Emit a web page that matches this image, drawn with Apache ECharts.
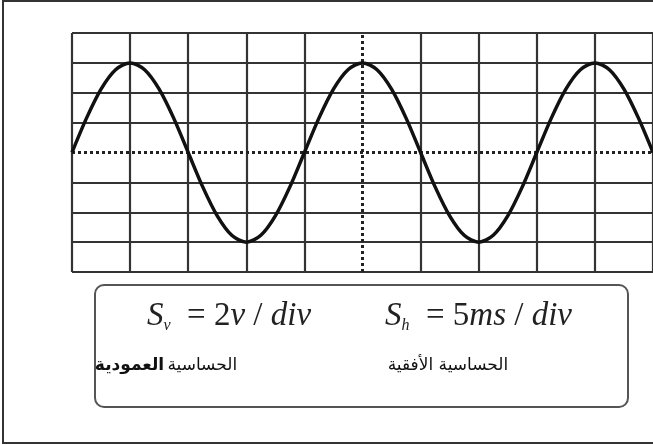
<!DOCTYPE html>
<html>
<head>
<meta charset="utf-8">
<script src="https://cdn.jsdelivr.net/npm/echarts@6/dist/echarts.min.js"></script>
<style>html,body{margin:0;padding:0;background:#fff;}#c{width:653px;height:445px;}</style>
</head>
<body>
<div id="c"></div>
<script>
// horizontal position in divisions (0.25 div steps)
var timeDiv = [];
for (var i = 0; i <= 40; i++) timeDiv.push(i / 4);
// signal amplitude in divisions
var signalDiv = [
  0, 1.15, 2.12, 2.77, 3, 2.77, 2.12, 1.15,
  0, -1.15, -2.12, -2.77, -3, -2.77, -2.12, -1.15,
  0, 1.15, 2.12, 2.77, 3, 2.77, 2.12, 1.15,
  0, -1.15, -2.12, -2.77, -3, -2.77, -2.12, -1.15,
  0, 1.15, 2.12, 2.77, 3, 2.77, 2.12, 1.15,
  0
];
var xTicks = [0,1,2,3,4,5,6,7,8,9,10];
var yTicks = [-4,-3,-2,-1,0,1,2,3,4];
var labelVWords = ['الحساسية', 'العمودية'];
var labelH = 'الحساسية الأفقية';

var gridColor = '#333';
var xColors = xTicks.map(function (t) { return t === 5 ? 'rgba(0,0,0,0)' : gridColor; });
var yColors = yTicks.map(function (t) { return t === 0 ? 'rgba(0,0,0,0)' : gridColor; });

var pts = timeDiv.map(function (t, k) { return [t, signalDiv[k]]; });

var F = 'Liberation Serif';
var FS = 33;
var rich = {
  s: {fontFamily: F, fontStyle: 'italic', fontSize: FS, fill: '#222'},
  sub: {fontFamily: F, fontStyle: 'italic', fontSize: 16, fill: '#222', padding: [18, 0, 0, 0]},
  n: {fontFamily: F, fontSize: FS, fill: '#222'},
  i: {fontFamily: F, fontStyle: 'italic', fontSize: FS, fill: '#222'}
};

var chart = echarts.init(document.getElementById('c'), null, {renderer: 'canvas'});
chart.setOption({
  animation: false,
  backgroundColor: '#fff',
  grid: {left: 72, top: 33, width: 582, height: 239, containLabel: false},
  xAxis: {
    type: 'value', min: 0, max: 10, interval: 1,
    axisLine: {show: false}, axisTick: {show: false}, axisLabel: {show: false},
    splitLine: {show: true, lineStyle: {color: xColors, width: 2.2}}
  },
  yAxis: {
    type: 'value', min: -4, max: 4, interval: 1,
    axisLine: {show: false}, axisTick: {show: false}, axisLabel: {show: false},
    splitLine: {show: true, lineStyle: {color: yColors, width: 2.2}}
  },
  series: [{
    type: 'line',
    data: pts,
    smooth: 0.3,
    showSymbol: false,
    lineStyle: {color: '#111', width: 3.5},
    z: 5,
    markLine: {
      silent: true,
      symbol: 'none',
      label: {show: false},
      lineStyle: {color: '#222', width: 3, type: [3, 3]},
      data: [{xAxis: xTicks[5]}, {yAxis: yTicks[4]}]
    }
  }],
  graphic: [
    {type: 'rect', shape: {x: 3, y: 1, width: 700, height: 442}, style: {fill: 'none', stroke: '#333', lineWidth: 2}, z: 10},
    {type: 'rect', shape: {x: 95, y: 285, width: 533, height: 122, r: 9}, style: {fill: 'none', stroke: '#555', lineWidth: 2}, z: 10},
    {type: 'text', left: 147, top: 300, z: 11, style: {
      text: '{s|S}{sub|v}{n|  = 2}{i|v}{n| / }{i|div}', rich: rich
    }},
    {type: 'text', left: 385, top: 300, z: 11, style: {
      text: '{s|S}{sub|h}{n|  = 5}{i|ms}{n| / }{i|div}', rich: rich
    }},
    {type: 'text', x: 166, y: 366, z: 11, style: {
      text: '{b|' + labelVWords[1] + '} {n|' + labelVWords[0] + '}',
      align: 'center', verticalAlign: 'middle',
      rich: {
        b: {fontFamily: 'DejaVu Sans', fontWeight: 'bold', fontSize: 17, fill: '#111'},
        n: {fontFamily: 'DejaVu Sans', fontSize: 17, fill: '#111'}
      }
    }},
    {type: 'text', x: 448, y: 366, z: 11, style: {
      text: labelH, fontFamily: 'DejaVu Sans', fontSize: 17, fill: '#111', align: 'center', verticalAlign: 'middle'
    }}
  ]
});
</script>
</body>
</html>
